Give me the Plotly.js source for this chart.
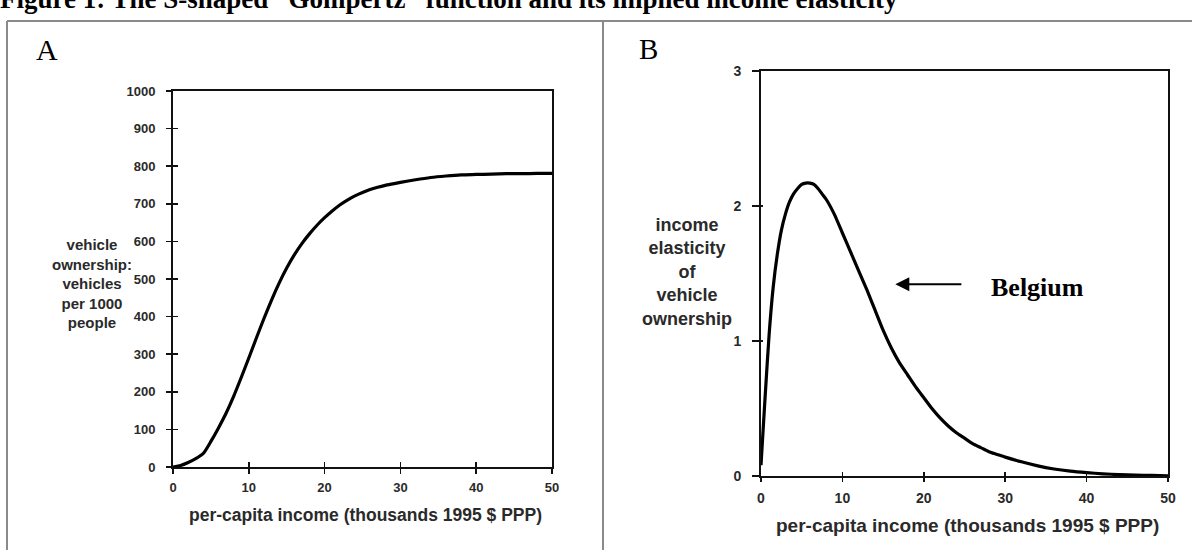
<!DOCTYPE html>
<html>
<head>
<meta charset="utf-8">
<script src="https://cdn.plot.ly/plotly-3.0.1.min.js"></script>
<style>html,body{margin:0;padding:0;background:#fff;}#chart{width:1192px;height:550px;}</style>
</head>
<body>
<div id="chart"></div>
<script>
// Panel A: vehicle ownership (vehicles per 1000 people) vs per-capita income
const incomeA = [0,1,2,3,4,5,6,7,8,9,10,11,12,13,14,15,16,17,18,19,20,21,22,23,24,25,26,27,28,29,30,32,34,36,38,40,42,44,46,48,50];
const ownershipA = [0,4,12,22,36,68,104,143,188,238,290,343,395,444,489,529,564,594,620,643,663,681,697,710,721,730,738,744,749,753,757,764,770,774,777,778,779,780,780,781,781];

// Panel B: income elasticity of vehicle ownership vs per-capita income
const incomeB = [0,0.5,1,1.5,2,2.5,3,3.5,4,4.5,5,5.5,6,6.5,7,7.5,8,9,10,11,12,13,14,15,16,17,18,19,20,21,22,23,24,25,26,27,28,29,30,32,34,36,38,40,42,44,46,48,50];
const elasticityB = [0.08,0.58,1.05,1.40,1.64,1.82,1.94,2.03,2.09,2.13,2.16,2.17,2.17,2.16,2.13,2.09,2.05,1.94,1.80,1.66,1.52,1.38,1.23,1.08,0.95,0.84,0.75,0.66,0.58,0.50,0.43,0.37,0.32,0.28,0.24,0.21,0.18,0.16,0.14,0.105,0.075,0.052,0.036,0.025,0.016,0.010,0.006,0.004,0.002];

const xTicks = [0,10,20,30,40,50];
const yTicksA = [0,100,200,300,400,500,600,700,800,900,1000];
const yTicksB = [0,1,2,3];

const xTitle = 'per-capita income (thousands 1995 $ PPP)';
const yTitleA = 'vehicle<br>ownership:<br>vehicles<br>per 1000<br>people';
const yTitleB = 'income<br>elasticity<br>of<br>vehicle<br>ownership';
const caption = 'Figure 1: The S-shaped \u201cGompertz\u201d function and its implied income elasticity';
const annotatedCountry = 'Belgium';

const W = 1192, H = 550;
const px = v => v / W;
const py = v => 1 - v / H;

const sans = 'Liberation Sans, Arial, sans-serif';
const serif = 'Liberation Serif, Times New Roman, serif';
const tickFont = {family: sans, size: 13, color: '#2a2a2a', weight: 'bold'};

function mainAxis(domain, range, tickvals, extra) {
  return Object.assign({
    domain: domain, range: range, tickmode: 'array', tickvals: tickvals,
    showline: true, linecolor: '#111', linewidth: 2, mirror: true,
    ticks: 'outside', ticklen: 5, tickwidth: 1.5, tickcolor: '#111',
    showgrid: false, zeroline: false, tickfont: tickFont, fixedrange: true
  }, extra || {});
}
function innerAxis(range, tickvals, overlay, anchor, len) {
  return {
    range: range, tickmode: 'array', tickvals: tickvals, overlaying: overlay, anchor: anchor,
    ticks: 'inside', ticklen: len, tickwidth: 1.5, tickcolor: '#111',
    showticklabels: false, showline: false, showgrid: false, zeroline: false, fixedrange: true
  };
}

const data = [
  {x: incomeA, y: ownershipA, xaxis: 'x', yaxis: 'y', type: 'scatter', mode: 'lines',
   line: {color: '#000', width: 3.2, shape: 'spline', smoothing: 0.6}, hoverinfo: 'skip'},
  {x: incomeB, y: elasticityB, xaxis: 'x2', yaxis: 'y2', type: 'scatter', mode: 'lines',
   line: {color: '#000', width: 3.2, shape: 'spline', smoothing: 0.6}, hoverinfo: 'skip'},
  // carriers for the inner tick marks
  {x: incomeA, y: ownershipA, xaxis: 'x3', yaxis: 'y3', type: 'scatter', mode: 'lines',
   line: {color: 'rgba(0,0,0,0)', width: 0}, hoverinfo: 'skip'},
  {x: incomeB, y: elasticityB, xaxis: 'x4', yaxis: 'y4', type: 'scatter', mode: 'lines',
   line: {color: 'rgba(0,0,0,0)', width: 0}, hoverinfo: 'skip'}
];

const domXA = [px(173), px(552)], domYA = [py(467), py(91)];
const domXB = [px(761), px(1168)], domYB = [py(476), py(71)];

const layout = {
  width: W, height: H,
  margin: {l: 0, r: 0, t: 0, b: 0},
  paper_bgcolor: '#fff', plot_bgcolor: 'rgba(0,0,0,0)',
  showlegend: false,
  xaxis: mainAxis(domXA, [0, 50], xTicks, {anchor: 'y', ticklabelstandoff: 2}),
  yaxis: mainAxis(domYA, [0, 1000], yTicksA, {anchor: 'x', ticklabelstandoff: 8}),
  xaxis2: mainAxis(domXB, [0, 50], xTicks, {anchor: 'y2', ticklen: 4, ticklabelstandoff: 4,
    tickfont: {family: sans, size: 14, color: '#2a2a2a', weight: 'bold'}}),
  yaxis2: mainAxis(domYB, [0, 3], yTicksB, {anchor: 'x2', ticklen: 7, ticklabelstandoff: 8,
    tickfont: {family: sans, size: 14, color: '#2a2a2a', weight: 'bold'}}),
  xaxis3: Object.assign(innerAxis([0, 50], xTicks, 'x', 'y3', 5), {domain: domXA}),
  yaxis3: Object.assign(innerAxis([0, 1000], yTicksA, 'y', 'x3', 5), {domain: domYA}),
  xaxis4: Object.assign(innerAxis([0, 50], xTicks, 'x2', 'y4', 4), {domain: domXB}),
  yaxis4: Object.assign(innerAxis([0, 3], yTicksB, 'y2', 'x4', 2), {domain: domYB}),
  shapes: [
    {type: 'line', xref: 'paper', yref: 'paper', x0: px(7), x1: 1, y0: py(21), y1: py(21),
     line: {color: '#8a8a8a', width: 2}},
    {type: 'line', xref: 'paper', yref: 'paper', x0: px(7), x1: px(7), y0: py(21), y1: 0,
     line: {color: '#8a8a8a', width: 2}},
    {type: 'line', xref: 'paper', yref: 'paper', x0: px(603), x1: px(603), y0: py(21), y1: 0,
     line: {color: '#8a8a8a', width: 2}}
  ],
  annotations: [
    {text: caption, xref: 'paper', yref: 'paper', x: px(-2), y: py(16), xanchor: 'left', yanchor: 'bottom',
     showarrow: false, font: {family: serif, size: 27, color: '#000', weight: 'bold'}},
    {text: 'A', xref: 'paper', yref: 'paper', x: px(47), y: py(49), xanchor: 'center', yanchor: 'middle',
     showarrow: false, font: {family: serif, size: 30, color: '#000'}},
    {text: 'B', xref: 'paper', yref: 'paper', x: px(648), y: py(49), xanchor: 'center', yanchor: 'middle',
     showarrow: false, font: {family: serif, size: 29, color: '#000'}},
    {text: yTitleA, xref: 'paper', yref: 'paper', x: px(92), y: py(283), xanchor: 'center', yanchor: 'middle',
     showarrow: false, align: 'center', font: {family: sans, size: 15, color: '#2a2a2a', weight: 'bold'}},
    {text: yTitleB, xref: 'paper', yref: 'paper', x: px(687), y: py(272), xanchor: 'center', yanchor: 'middle',
     showarrow: false, align: 'center', font: {family: sans, size: 18, color: '#2a2a2a', weight: 'bold'}},
    {text: xTitle, xref: 'paper', yref: 'paper', x: px(366), y: py(515), xanchor: 'center', yanchor: 'middle',
     showarrow: false, font: {family: sans, size: 17.5, color: '#2a2a2a', weight: 'bold'}},
    {text: xTitle, xref: 'paper', yref: 'paper', x: px(967), y: py(525), xanchor: 'center', yanchor: 'middle',
     showarrow: false, font: {family: sans, size: 19, color: '#2a2a2a', weight: 'bold'}},
    {text: '', xref: 'x2', yref: 'y2', x: 16.5, y: 1.42, axref: 'x2', ayref: 'y2', ax: 24.8, ay: 1.42,
     showarrow: true, arrowhead: 2, arrowsize: 1.4, arrowwidth: 2, arrowcolor: '#000', standoff: 0},
    {text: annotatedCountry, xref: 'x2', yref: 'y2', x: 34.0, y: 1.40, xanchor: 'center', yanchor: 'middle',
     showarrow: false, font: {family: serif, size: 26, color: '#000', weight: 'bold'}}
  ]
};

Plotly.newPlot('chart', data, layout, {staticPlot: true, displayModeBar: false});
</script>
</body>
</html>
